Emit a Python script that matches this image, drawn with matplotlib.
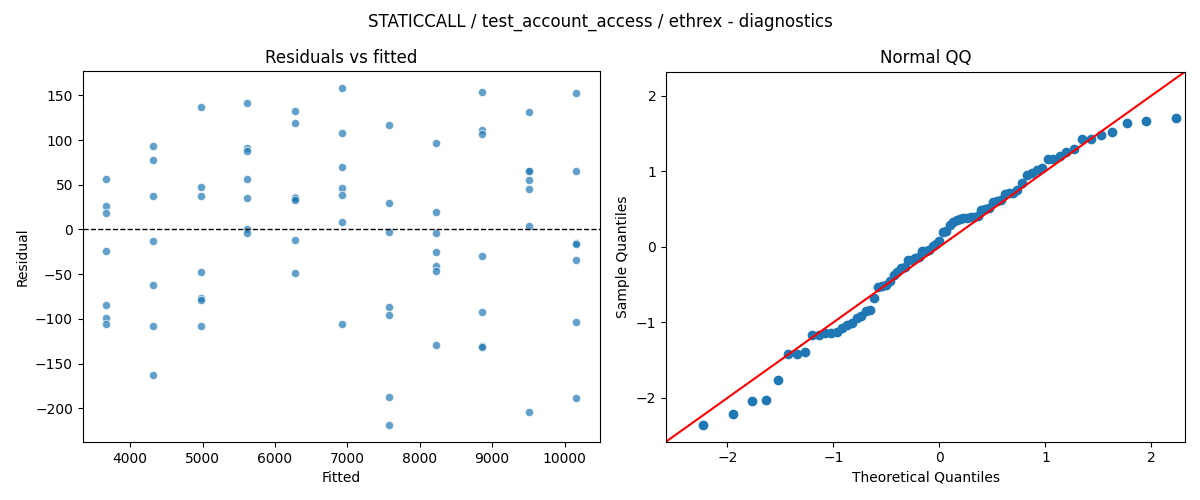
import matplotlib
matplotlib.use("Agg")
import matplotlib.pyplot as plt
import numpy as np
from statistics import NormalDist

# Fitted values (one per group) and residuals
fitted_levels = [3669, 4321, 4974, 5616, 6277, 6924, 7572, 8219, 8866, 9514, 10165]
residual_groups = [
    [55.9, 26.8, 17.9, -24.2, -84.8, -99.4, -106.1],
    [93.8, 78.2, 37.2, -13.4, -62.6, -108.0, -163.1],
    [136.7, 48.0, 37.2, -48.0, -76.7, -78.9, -108.0],
    [141.1, 91.2, 88.2, 57.0, 35.7, 0.7, -4.5],
    [132.2, 119.6, 36.1, 34.9, 32.7, -12.3, -48.8],
    [158.4, 108.4, 69.7, 46.2, 38.3, 7.8, -106.1],
    [116.6, 30.1, -3.4, -86.7, -96.1, -187.6, -218.9],
    [97.2, 19.0, -4.5, -25.6, -41.3, -46.9, -129.2],
    [154.2, 111.7, 107.3, -30.1, -92.7, -130.7, -131.2],
    [131.8, 65.9, 65.5, 54.8, 45.8, 3.7, -204.5],
    [152.3, 65.9, -15.7, -16.0, -34.6, -103.9, -188.8],
]

fitted = np.concatenate([[f] * len(g) for f, g in zip(fitted_levels, residual_groups)])
resid = np.concatenate([np.array(g) for g in residual_groups])

fig = plt.figure(figsize=(12, 5), dpi=100)
W, H = 1200, 500
ax1 = fig.add_axes([82.7 / W, (H - 442.0) / H, (600 - 82.7) / W, (442.0 - 71.0) / H])
ax2 = fig.add_axes([666 / W, (H - 441.7) / H, (1185.3 - 666) / W, (441.7 - 71.5) / H])

# Residuals vs fitted
ax1.scatter(fitted, resid, s=36, color="#1f77b4", alpha=0.7, edgecolors="white", linewidths=0.75)
ax1.axhline(0, color="black", linestyle="--", linewidth=1)
ax1.set_title("Residuals vs fitted")
ax1.set_xlabel("Fitted")
ax1.set_ylabel("Residual")

# Normal QQ
n = len(resid)
nd = NormalDist()
theo = np.array([nd.inv_cdf(i / (n + 1)) for i in range(1, n + 1)])
loc = resid.mean()
scale = resid.std()
sample = np.sort((resid - loc) / scale)
ax2.plot(theo, sample, "o", color="#1f77b4", markersize=6)
lims = [-2.58, 2.32]
ax2.plot(lims, lims, color="red")
ax2.set_xlim(lims)
ax2.set_ylim(lims)
ax2.set_title("Normal QQ")
ax2.set_xlabel("Theoretical Quantiles")
ax2.set_ylabel("Sample Quantiles")

fig.suptitle("STATICCALL / test_account_access / ethrex - diagnostics", fontsize=12, y=0.975)
fig.savefig("out.png", dpi=100)
